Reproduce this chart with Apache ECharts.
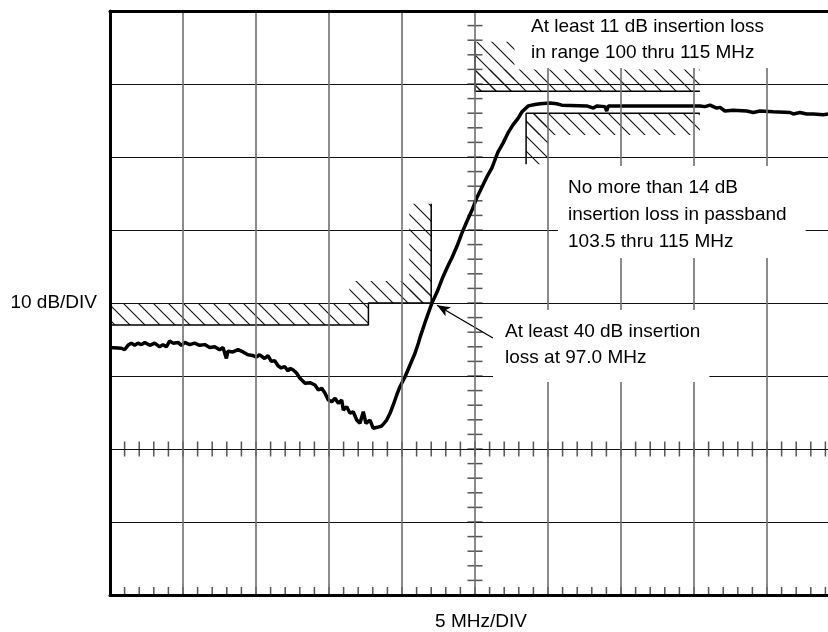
<!DOCTYPE html>
<html>
<head>
<meta charset="utf-8">
<script src="https://cdn.jsdelivr.net/npm/echarts@6/dist/echarts.min.js"></script>
<style>
    html, body { margin: 0; padding: 0; background: #fff; }
    #main { width: 828px; height: 632px; }
</style>
</head>
<body>
<div id="main"></div>
<script>
var FONT = "'Liberation Sans', Arial, sans-serif";

// measured trace: frequency (MHz) / insertion loss (dB)
var freq = [75.0, 75.78, 76.0, 76.23, 76.46, 76.69, 76.92, 77.15, 77.38, 77.72, 78.06, 78.4, 78.63, 78.86,
    79.09, 79.32, 79.66, 79.89, 80.12, 80.46, 80.8, 81.14, 81.49, 81.83, 82.17, 82.51, 82.74, 82.97, 83.08,
    83.42, 83.77, 84.11, 84.45, 84.79, 85.02, 85.25, 85.59, 85.82, 86.05, 86.28, 86.51, 86.73, 86.96, 87.19,
    87.33, 87.55, 87.79, 88.01, 88.36, 88.7, 89.04, 89.27, 89.5, 89.73, 89.95, 90.19, 90.41, 90.64, 90.87,
    90.98, 91.21, 91.44, 91.66, 91.9, 92.12, 92.35, 92.53, 92.81, 93.03, 93.31, 93.61, 93.95, 94.18, 94.4,
    94.64, 94.86, 95.21, 95.55, 95.89, 96.12, 96.27, 96.64, 97.05, 97.4, 97.81, 98.15, 98.42, 98.77, 99.11,
    99.45, 99.79, 100.14, 100.48, 100.82, 101.16, 101.44, 101.58, 101.92, 102.26, 102.6, 102.95, 103.22,
    103.65, 104.11, 104.45, 105.14, 105.59, 105.94, 107.65, 108.11, 108.34, 108.9, 109.02, 109.13, 109.93,
    113.36, 115.41, 115.75, 116.1, 116.55, 116.78, 117.12, 117.69, 118.61, 119.06, 119.52, 120.43, 121.58,
    121.8, 122.26, 122.72, 123.17, 123.86, 124.18];
var loss = [46.1, 46.2, 46.4, 45.8, 45.5, 45.8, 45.5, 45.7, 45.4, 45.8, 45.5, 46.0, 45.7, 46.0,
    45.2, 45.5, 45.4, 45.8, 45.4, 45.7, 45.5, 45.8, 45.7, 46.1, 46.0, 46.4, 46.1, 47.6, 46.6,
    46.7, 46.4, 46.7, 47.1, 47.2, 47.4, 47.1, 47.6, 47.2, 48.0, 47.9, 48.6, 48.9, 48.7, 49.3,
    48.95, 49.18, 49.63, 50.32, 51.0, 50.92, 51.23, 51.92, 51.68, 52.37, 53.29, 53.52, 53.05, 53.74, 53.29,
    54.66, 54.21, 55.11, 54.89, 56.03, 56.48, 54.89, 56.48, 56.03, 57.16, 57.03, 56.85, 56.03, 55.11, 53.97,
    52.6, 51.47, 50.1, 48.49, 46.89, 45.52, 44.5, 42.3, 40.0, 38.5, 36.4, 34.9, 33.8, 32.2, 30.4,
    28.8, 27.3, 25.5, 24.1, 22.7, 21.5, 20.0, 19.3, 18.1, 16.7, 15.6, 14.7, 13.8,
    13.0, 12.8, 12.7, 12.6, 12.7, 12.9, 13.0, 13.3, 13.0, 13.1, 13.7, 13.0, 13.0,
    13.0, 13.0, 13.1, 12.9, 13.3, 13.2, 13.7, 13.6, 13.7, 13.9, 13.7, 13.8, 13.9,
    14.1, 13.9, 14.1, 14.1, 14.2, 14.1];

// limit masks
var stopLowX = [75, 92.7, 92.7, 97, 97];
var stopLowY = [43, 43, 40, 40, 26.4];
var stopHighX = [100, 100, 115.4];
var stopHighY = [4.2, 11, 11];
var passX = [103.5, 103.5, 115.4];
var passY = [21, 14, 14];

// hatched bands beside the mask edges: [f1, dB1, f2, dB2]
var hatchBands = [
    [75, 40, 92.7, 43],
    [91.4, 37, 97, 40],
    [95.5, 26.4, 97, 40],
    [100, 4.2, 102.7, 11],
    [100, 8, 115.4, 11],
    [103.5, 14, 115.4, 17],
    [103.5, 14, 105, 21]
];

// arrow for the 97.0 MHz note
var arrowFrom = [101.23, 44.8];
var arrowTo = [97.4, 40.3];

// graticule
var xMin = 75, xMax = 125, xDiv = 5;
var yMin = 0, yMax = 80, yDiv = 10;
var xCenter = 100, yCenter = 60;
var xMinor = [];
for (var v = xMin; v <= xMax; v += 1) xMinor.push([v, yCenter]);
var yMinor = [];
for (var w = yMin; w <= yMax; w += 2) yMinor.push([xCenter, w]);

function zip(a, b) {
    return a.map(function (x, i) { return [x, b[i]]; });
}

// hatch tile
var tile = document.createElement('canvas');
tile.width = 15;
tile.height = 15;
var g = tile.getContext('2d');
g.strokeStyle = '#111';
g.lineWidth = 1.1;
g.beginPath();
g.moveTo(-1, -1); g.lineTo(16, 16);
g.moveTo(14, -1); g.lineTo(16, 1);
g.moveTo(-1, 14); g.lineTo(1, 16);
g.stroke();
var hatchFill = { image: tile, repeat: 'repeat' };

var tickStyle = { stroke: '#555', lineWidth: 1.5 };

var chart = echarts.init(document.getElementById('main'));
var option = {
    animation: false,
    grid: { left: 110, top: 11, right: -12, bottom: 37, outerBoundsMode: 'none', containLabel: false },
    xAxis: [
        {
            type: 'value',
            min: xMin, max: xMax, interval: xDiv,
            name: '5 MHz/DIV',
            nameLocation: 'middle',
            nameGap: 17,
            nameTextStyle: { fontSize: 19, color: '#000', fontFamily: FONT, padding: [0, 0, 0, 12] },
            axisLine: { show: true, onZero: false, lineStyle: { color: '#000', width: 3 } },
            axisTick: { show: false },
            axisLabel: { show: false },
            splitLine: { show: true, lineStyle: { color: '#6e6e6e', width: 1.6 } },
            z: 10
        },
        {
            type: 'value',
            position: 'top',
            min: xMin, max: xMax, interval: xDiv,
            axisLine: { show: true, onZero: false, lineStyle: { color: '#000', width: 3 } },
            axisTick: { show: false },
            axisLabel: { show: false },
            splitLine: { show: false },
            z: 10
        }
    ],
    yAxis: {
        type: 'value',
        inverse: true,
        min: yMin, max: yMax, interval: yDiv,
        name: '10 dB/DIV',
        nameLocation: 'middle',
        nameRotate: 0,
        nameGap: 13,
        nameTextStyle: { fontSize: 19, color: '#000', fontFamily: FONT, align: 'right', verticalAlign: 'middle' },
        axisLine: { show: true, onZero: false, lineStyle: { color: '#000', width: 3 } },
        axisTick: { show: false },
        axisLabel: { show: false },
        splitLine: { show: true, lineStyle: { color: '#111', width: 1 } },
        z: 10
    },
    series: [
        {
            type: 'custom',
            name: 'hatch',
            silent: true,
            z: 2,
            data: hatchBands,
            encode: { x: [0, 2], y: [1, 3] },
            renderItem: function (params, api) {
                var a = api.coord([api.value(0), api.value(1)]);
                var b = api.coord([api.value(2), api.value(3)]);
                return {
                    type: 'rect',
                    shape: {
                        x: Math.min(a[0], b[0]), y: Math.min(a[1], b[1]),
                        width: Math.abs(b[0] - a[0]), height: Math.abs(b[1] - a[1])
                    },
                    style: { fill: hatchFill }
                };
            }
        },
        {
            type: 'custom',
            name: 'xticks',
            silent: true,
            z: 3,
            data: xMinor,
            encode: { x: 0, y: 1 },
            renderItem: function (params, api) {
                var c = api.coord([api.value(0), yCenter]);
                var b = api.coord([api.value(0), yMax]);
                return {
                    type: 'group',
                    children: [
                        { type: 'line', shape: { x1: c[0], y1: c[1] - 7.5, x2: c[0], y2: c[1] + 7.5 }, style: tickStyle },
                        { type: 'line', shape: { x1: b[0], y1: b[1] - 8, x2: b[0], y2: b[1] }, style: tickStyle }
                    ]
                };
            }
        },
        {
            type: 'custom',
            name: 'yticks',
            silent: true,
            z: 3,
            data: yMinor,
            encode: { x: 0, y: 1 },
            renderItem: function (params, api) {
                var c = api.coord([xCenter, api.value(1)]);
                return { type: 'line', shape: { x1: c[0] - 7.5, y1: c[1], x2: c[0] + 7.5, y2: c[1] }, style: tickStyle };
            }
        },
        {
            type: 'line', name: 'stopLow', data: zip(stopLowX, stopLowY),
            symbol: 'none', silent: true, z: 4,
            lineStyle: { color: '#000', width: 1.5 }
        },
        {
            type: 'line', name: 'stopHigh', data: zip(stopHighX, stopHighY),
            symbol: 'none', silent: true, z: 4,
            lineStyle: { color: '#000', width: 1.5 }
        },
        {
            type: 'line', name: 'pass', data: zip(passX, passY),
            symbol: 'none', silent: true, z: 4,
            lineStyle: { color: '#000', width: 1.5 }
        },
        {
            type: 'line', name: 'trace', data: zip(freq, loss),
            symbol: 'none', silent: true, z: 5,
            lineStyle: { color: '#000', width: 3.5 },
            markLine: {
                silent: true,
                symbol: ['none', 'arrow'],
                symbolSize: [8, 13],
                label: { show: false },
                lineStyle: { color: '#000', width: 1.3, type: 'solid' },
                data: [[{ coord: arrowFrom }, { coord: arrowTo }]]
            }
        }
    ],
    graphic: [
        {
            type: 'text', x: 515, y: 13, z: 50,
            style: {
                text: 'At least 11 dB insertion loss\nin range 100 thru 115 MHz',
                font: '19px ' + FONT, fill: '#000', lineHeight: 26,
                backgroundColor: '#fff', padding: [1, 12, 2, 16]
            }
        },
        {
            type: 'text', x: 558, y: 166, z: 50,
            style: {
                text: 'No more than 14 dB\ninsertion loss in passband\n103.5 thru 115 MHz',
                font: '19px ' + FONT, fill: '#000', lineHeight: 27,
                backgroundColor: '#fff', padding: [8, 19, 3, 10]
            }
        },
        {
            type: 'text', x: 493, y: 310, z: 50,
            style: {
                text: 'At least 40 dB insertion\nloss at 97.0 MHz',
                font: '19px ' + FONT, fill: '#000', lineHeight: 26,
                backgroundColor: '#fff', padding: [9, 9, 11, 12]
            }
        }
    ]
};
chart.setOption(option);
</script>
</body>
</html>
